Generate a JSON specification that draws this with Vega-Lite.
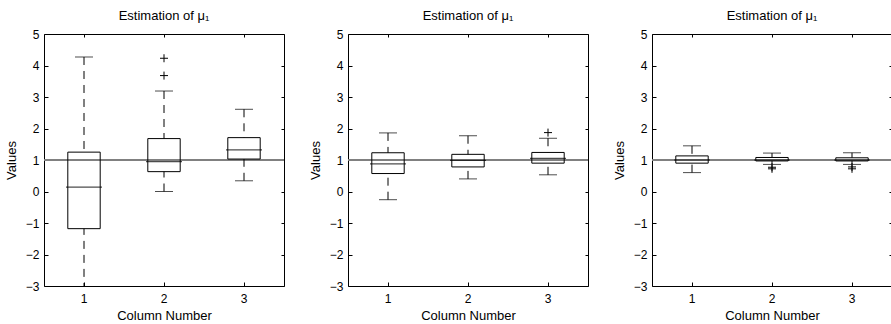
{
  "$schema": "https://vega.github.io/schema/vega-lite/v6.json",
  "padding": {"left": 4, "top": 9, "right": 0, "bottom": 0},
  "data": {"values": [
    {"kind": "box", "panel": 1, "col": 1, "lower": -3.6, "q1": -1.18, "median": 0.14, "q3": 1.25, "upper": 4.27},
    {"kind": "box", "panel": 1, "col": 2, "lower": 0.0, "q1": 0.63, "median": 0.95, "q3": 1.68, "upper": 3.19},
    {"kind": "box", "panel": 1, "col": 3, "lower": 0.34, "q1": 1.03, "median": 1.32, "q3": 1.71, "upper": 2.61},
    {"kind": "box", "panel": 2, "col": 1, "lower": -0.26, "q1": 0.57, "median": 0.88, "q3": 1.23, "upper": 1.86},
    {"kind": "box", "panel": 2, "col": 2, "lower": 0.40, "q1": 0.78, "median": 0.99, "q3": 1.18, "upper": 1.77},
    {"kind": "box", "panel": 2, "col": 3, "lower": 0.53, "q1": 0.90, "median": 1.05, "q3": 1.24, "upper": 1.69},
    {"kind": "box", "panel": 3, "col": 1, "lower": 0.60, "q1": 0.90, "median": 1.00, "q3": 1.13, "upper": 1.45},
    {"kind": "box", "panel": 3, "col": 2, "lower": 0.86, "q1": 0.97, "median": 1.00, "q3": 1.08, "upper": 1.22},
    {"kind": "box", "panel": 3, "col": 3, "lower": 0.86, "q1": 0.97, "median": 1.00, "q3": 1.07, "upper": 1.23},
    {"kind": "outlier", "panel": 1, "col": 2, "value": 4.23},
    {"kind": "outlier", "panel": 1, "col": 2, "value": 3.68},
    {"kind": "outlier", "panel": 2, "col": 3, "value": 1.87},
    {"kind": "outlier", "panel": 3, "col": 2, "value": 0.77},
    {"kind": "outlier", "panel": 3, "col": 2, "value": 0.72},
    {"kind": "outlier", "panel": 3, "col": 3, "value": 0.78},
    {"kind": "outlier", "panel": 3, "col": 3, "value": 0.72}
  ]},
  "facet": {"column": {"field": "panel", "type": "ordinal", "title": null,
    "header": {"labelExpr": "'Estimation of  μ₁'", "labelFont": "Liberation Sans", "labelFontSize": 13, "labelPadding": 11, "labelColor": "black"}}},
  "spacing": 64,
  "bounds": "flush",
  "resolve": {"axis": {"y": "independent"}},
  "spec": {
    "width": 240,
    "height": 252,
    "resolve": {"axis": {"x": "independent", "y": "independent"}},
    "encoding": {
      "x": {"field": "col", "type": "ordinal", "scale": {"domain": [1, 2, 3]}, "axis": null}
    },
    "layer": [
      {
        "transform": [{"filter": "datum.kind == 'box' && datum.col == 1"}],
        "mark": {"type": "rule", "color": "#808080", "strokeWidth": 2},
        "encoding": {"x": null, "y": {"datum": 1, "type": "quantitative", "scale": {"domain": [-3, 5]}, "axis": null}}
      },
      {
        "transform": [{"filter": "datum.kind == 'box'"}],
        "mark": {"type": "bar", "width": {"band": 0.45}, "filled": false, "stroke": "black", "strokeWidth": 1, "clip": true},
        "encoding": {
          "x": {"field": "col", "type": "ordinal", "title": "Column Number", "scale": {"domain": [1, 2, 3]}, "axis": {"labelAngle": 0}},
          "y": {"field": "q1", "type": "quantitative", "title": "Values", "scale": {"domain": [-3, 5]}, "axis": {"values": [-3, -2, -1, 0, 1, 2, 3, 4, 5]}},
          "y2": {"field": "q3"}
        }
      },
      {
        "transform": [{"filter": "datum.kind == 'box'"}],
        "mark": {"type": "rule", "color": "black", "strokeWidth": 1, "strokeDash": [8, 6], "clip": true},
        "encoding": {
          "y": {"field": "upper", "type": "quantitative", "scale": {"domain": [-3, 5]}, "axis": null},
          "y2": {"field": "q3"}
        }
      },
      {
        "transform": [{"filter": "datum.kind == 'box'"}],
        "mark": {"type": "rule", "color": "black", "strokeWidth": 1, "strokeDash": [8, 6], "clip": true},
        "encoding": {
          "y": {"field": "lower", "type": "quantitative", "scale": {"domain": [-3, 5]}, "axis": null},
          "y2": {"field": "q1"}
        }
      },
      {
        "transform": [{"filter": "datum.kind == 'box'"}],
        "mark": {"type": "tick", "color": "black", "size": 18, "thickness": 1, "clip": true},
        "encoding": {"y": {"field": "upper", "type": "quantitative", "scale": {"domain": [-3, 5]}, "axis": null}}
      },
      {
        "transform": [{"filter": "datum.kind == 'box'"}],
        "mark": {"type": "tick", "color": "black", "size": 18, "thickness": 1, "clip": true},
        "encoding": {"y": {"field": "lower", "type": "quantitative", "scale": {"domain": [-3, 5]}, "axis": null}}
      },
      {
        "transform": [{"filter": "datum.kind == 'box'"}],
        "mark": {"type": "tick", "color": "black", "size": 36, "thickness": 1.2},
        "encoding": {"y": {"field": "median", "type": "quantitative", "scale": {"domain": [-3, 5]}, "axis": null}}
      },
      {
        "transform": [{"filter": "datum.kind == 'outlier'"}],
        "mark": {"type": "point", "shape": "M-1,0H1M0,-1V1", "filled": false, "stroke": "black", "strokeWidth": 1, "size": 64, "opacity": 1},
        "encoding": {"y": {"field": "value", "type": "quantitative", "scale": {"domain": [-3, 5]}, "axis": null}}
      },
      {
        "transform": [{"filter": "datum.kind == 'box'"}],
        "mark": {"type": "point", "opacity": 0},
        "encoding": {
          "x": {"field": "col", "type": "ordinal", "scale": {"domain": [1, 2, 3]}, "axis": {"orient": "top", "labels": false, "title": null, "tickSize": -3}},
          "y": {"field": "median", "type": "quantitative", "scale": {"domain": [-3, 5]}, "axis": {"orient": "right", "labels": false, "title": null, "tickSize": -3, "values": [-3, -2, -1, 0, 1, 2, 3, 4, 5]}}
        }
      }
    ]
  },
  "config": {
    "font": "Liberation Sans",
    "view": {"stroke": "black", "strokeWidth": 1},
    "axis": {"domain": false, "grid": false, "tickColor": "black", "tickSize": -4, "labelFont": "Liberation Sans", "labelFontSize": 12, "labelColor": "black", "titleFont": "Liberation Sans", "titleFontSize": 13, "titleFontWeight": "normal", "titleColor": "black"},
    "axisX": {"labelPadding": 11, "titlePadding": 5},
    "axisY": {"labelPadding": 9, "titlePadding": 7}
  }
}
